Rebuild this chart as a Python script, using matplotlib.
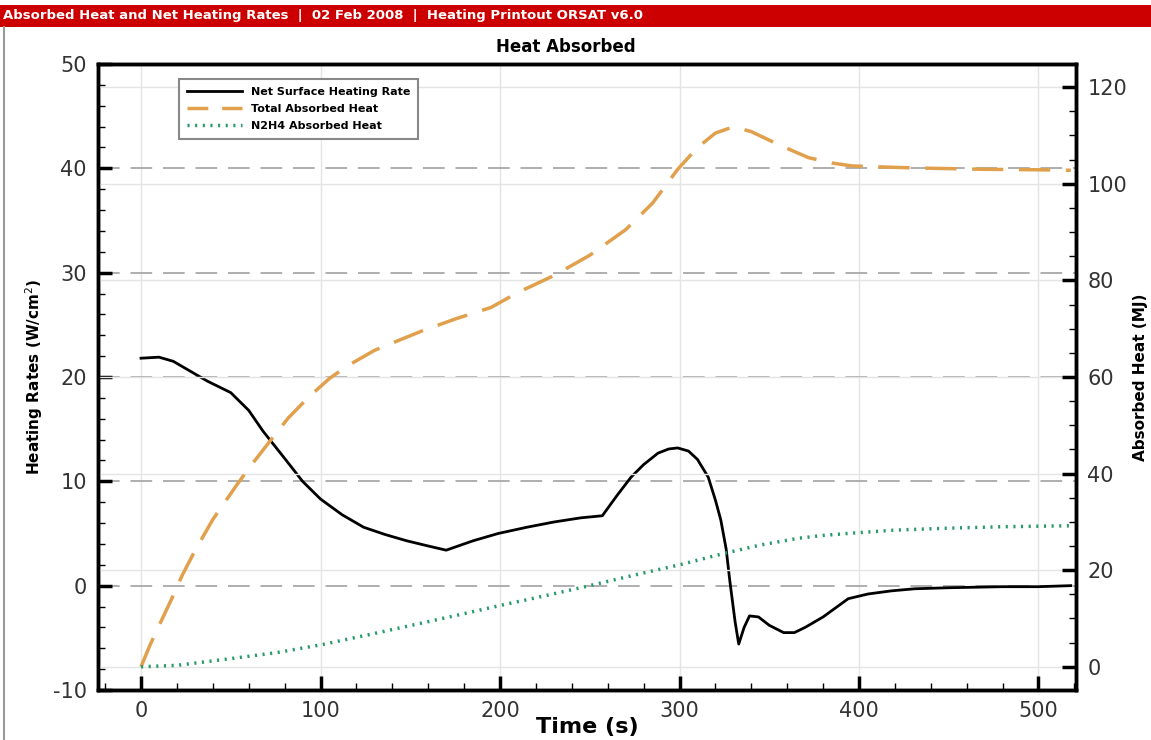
import matplotlib
matplotlib.use("Agg")
import matplotlib.pyplot as plt
from matplotlib.ticker import MultipleLocator
from matplotlib.patches import Rectangle
from matplotlib.lines import Line2D

plt.rcParams["font.family"] = ["DejaVu Sans"]
plt.rcParams["axes.unicode_minus"] = False

# Net surface heating rate (W/cm^2), left axis
t_net = [0, 10, 18, 28, 37, 50, 60, 68, 80, 90, 100, 112, 124, 136, 148, 160, 170,
         185, 199, 215, 230, 245, 257, 265, 273, 280, 288, 294, 299, 305, 310, 316,
         320, 323, 326, 328, 331, 333, 336, 339, 344, 350, 358, 364, 370, 380, 394,
         405, 418, 431, 450, 480, 500, 518]
net_rate = [21.8, 21.9, 21.5, 20.5, 19.6, 18.5, 16.8, 14.8, 12.2, 10.0, 8.3, 6.8, 5.6,
            4.9, 4.3, 3.8, 3.4, 4.3, 5.0, 5.6, 6.1, 6.5, 6.7, 8.6, 10.4, 11.6, 12.7,
            13.1, 13.2, 12.9, 12.1, 10.4, 8.2, 6.3, 3.5, 0.5, -3.5, -5.6, -4.0, -2.9,
            -3.0, -3.8, -4.5, -4.5, -4.0, -3.0, -1.25, -0.8, -0.5, -0.3, -0.2, -0.1,
            -0.1, 0.0]

# Total absorbed heat (MJ), right axis
t_total = [0, 5, 10, 17, 23, 30, 40, 54, 63, 72, 82, 93, 105, 115, 130, 145, 157, 175,
           195, 210, 230, 250, 270, 285, 299, 310, 320, 330, 340, 353, 362, 372, 385,
           396, 420, 442, 470, 500, 518]
total_heat = [0, 4.5, 8.5, 14, 19, 24, 30.5, 38, 42.5, 46.8, 51.5, 55.7, 59.7, 62.3,
              65.5, 67.8, 69.6, 72, 74.4, 77.5, 81, 85.2, 90.5, 96, 103, 107.5, 110.5,
              111.8, 110.8, 108.5, 107, 105.4, 104.3, 103.7, 103.4, 103.2, 103.0,
              102.9, 102.8]

# N2H4 absorbed heat (MJ), right axis
t_n2h4 = [0, 20, 46, 75, 101, 130, 157, 180, 199, 225, 250, 275, 301, 325, 345, 366,
          380, 397, 420, 450, 480, 518]
n2h4_heat = [0, 0.3, 1.5, 2.9, 4.6, 6.9, 9.1, 11.0, 12.6, 14.7, 16.8, 19.0, 21.2, 23.5,
             25.2, 26.6, 27.2, 27.7, 28.3, 28.7, 29.0, 29.2]

fig = plt.figure(figsize=(11.51, 7.40), dpi=100)
ax = fig.add_axes([0.0851, 0.0676, 0.8499, 0.8459])
ax2 = ax.twinx()

# header bar
fig.patches.append(Rectangle((0, 1 - 27 / 740), 1, 22 / 740, transform=fig.transFigure,
                             facecolor="#cc0000", edgecolor="none"))
fig.text(0.003, 1 - 16 / 740,
         "Absorbed Heat and Net Heating Rates  |  02 Feb 2008  |  Heating Printout ORSAT v6.0",
         color="white", fontsize=9.5, fontweight="bold", va="center", ha="left")
fig.lines.append(Line2D([4 / 1151, 4 / 1151], [0, 1 - 27 / 740], transform=fig.transFigure,
                        color="#999999", lw=1.5))

# grids
for v in [0, 10, 20, 30, 40]:
    ax.axhline(v, color="#a8a8a8", lw=1.3, ls=(0, (12, 6)), zorder=1)
for v in [0, 20, 40, 60, 80, 100, 120]:
    ax2.axhline(v, color="#e4e4e4", lw=1.0, zorder=0)
for v in range(0, 501, 100):
    ax.axvline(v, color="#e4e4e4", lw=1.0, zorder=0)

ax.plot(t_net, net_rate, color="black", lw=2.0, zorder=5)
ax2.plot(t_total, total_heat, color="#e0a04c", lw=2.5, ls=(0, (9, 4.5)))
ax2.plot(t_n2h4, n2h4_heat, color="#279a6c", lw=2.5, ls=(0, (0.6, 1.6)))

ax.set_xlim(-24, 521)
ax.set_ylim(-10, 50)
ax2.set_ylim(-4.8, 124.8)

ax.xaxis.set_major_locator(MultipleLocator(100))
ax.xaxis.set_minor_locator(MultipleLocator(20))
ax.yaxis.set_major_locator(MultipleLocator(10))
ax.yaxis.set_minor_locator(MultipleLocator(2))
ax2.yaxis.set_major_locator(MultipleLocator(20))
ax2.yaxis.set_minor_locator(MultipleLocator(5))

for a in (ax, ax2):
    a.tick_params(which="major", direction="in", length=10, width=2.5, labelsize=15,
                  labelcolor="#333333", pad=8)
    a.tick_params(which="minor", direction="in", length=5, width=1)
    for s in a.spines.values():
        s.set_linewidth(2.5)
ax.tick_params(axis="y", which="both", right=False)
ax.tick_params(axis="x", which="both", top=False)

ax.set_xlabel("Time (s)", fontsize=16, fontweight="bold", labelpad=-3)
ax.set_ylabel("Heating Rates (W/cm$^2$)", fontsize=11, fontweight="bold", labelpad=6)
ax2.set_ylabel("Absorbed Heat (MJ)", fontsize=11, fontweight="bold", labelpad=4)

fig.text(566 / 1151, 1 - 47 / 740, "Heat Absorbed", fontsize=12, fontweight="bold",
         ha="center", va="center")

handles = [Line2D([], [], color="black", lw=2),
           Line2D([], [], color="#e0a04c", lw=2.5, ls=(0, (6, 4))),
           Line2D([], [], color="#279a6c", lw=2.5, ls=(0, (0.6, 1.6)))]
labels = ["Net Surface Heating Rate", "Total Absorbed Heat", "N2H4 Absorbed Heat"]
leg = ax2.legend(handles, labels, loc="upper left", bbox_to_anchor=(0.077, 0.985),
                 fancybox=False, framealpha=1, edgecolor="#888888",
                 prop={"size": 8, "weight": "bold"}, handlelength=5, borderpad=0.7,
                 labelspacing=0.65)
leg.get_frame().set_linewidth(1.5)

fig.savefig("out.png", dpi=100)
